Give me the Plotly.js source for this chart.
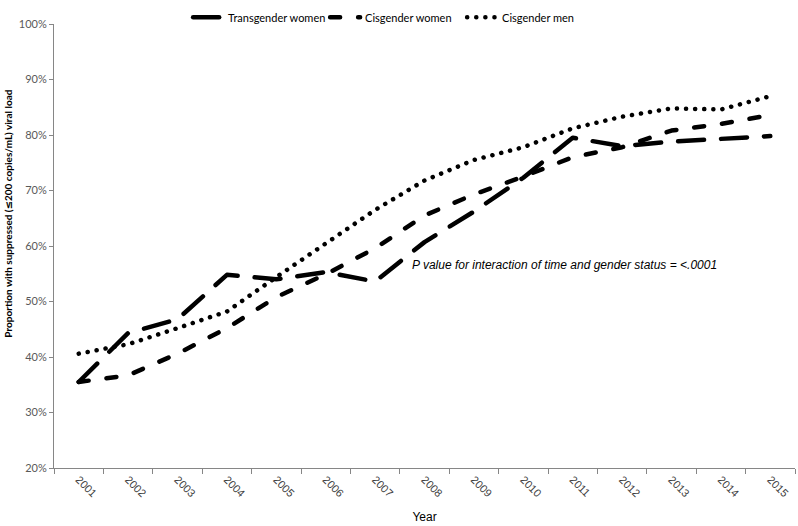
<!DOCTYPE html>
<html>
<head>
<meta charset="utf-8">
<script src="https://cdn.plot.ly/plotly-3.0.1.min.js"></script>
<style>html,body{margin:0;padding:0;background:#fff;}</style>
</head>
<body>
<div id="chart" style="width:798px;height:526px;"></div>
<script>
const years = ['2001','2002','2003','2004','2005','2006','2007','2008','2009','2010','2011','2012','2013','2014','2015'];
const transgenderWomen = [35.5, 44.3, 46.8, 54.8, 54.0, 55.3, 53.6, 60.7, 66.2, 72.3, 79.5, 78.0, 78.8, 79.2, 79.8];
const cisgenderWomen   = [35.5, 36.7, 40.6, 45.2, 50.8, 54.9, 59.6, 65.5, 69.3, 72.5, 76.0, 77.8, 80.8, 82.0, 83.6];
const cisgenderMen     = [40.6, 42.3, 45.2, 48.2, 54.4, 60.4, 66.5, 71.8, 75.5, 77.8, 81.2, 83.3, 84.8, 84.6, 87.0];
const yTicks = [20, 30, 40, 50, 60, 70, 80, 90, 100];

const traces = [
  {x: years, y: transgenderWomen, name: 'Transgender women', type: 'scatter', mode: 'lines',
   line: {color: '#000', width: 4.5, dash: '26px,17px'}},
  {x: years, y: cisgenderWomen, name: 'Cisgender women', type: 'scatter', mode: 'lines',
   line: {color: '#000', width: 4.5, dash: '10px,18px'}},
  {x: years, y: cisgenderMen, name: 'Cisgender men', type: 'scatter', mode: 'lines',
   line: {color: '#000', width: 4.5, dash: '0.1px,9px'}}
];

const layout = {
  width: 798, height: 526,
  margin: {l: 54, r: 3, t: 14, b: 58},
  paper_bgcolor: '#fff', plot_bgcolor: '#fff',
  showlegend: true,
  legend: {orientation: 'h', x: 0.181, xanchor: 'left', y: 1.015, yanchor: 'middle',
           font: {family: 'Lato, "Liberation Sans", sans-serif', size: 11, color: '#000'},
           itemwidth: 30, entrywidth: 92, bgcolor: 'rgba(0,0,0,0)'},
  xaxis: {
    type: 'category', tickson: 'boundaries', ticks: 'outside', ticklen: 5, tickcolor: '#868686',
    showline: true, linecolor: '#868686', linewidth: 1, showgrid: false, zeroline: false,
    tickangle: 45, tickfont: {family: '"Liberation Sans Narrow", "Liberation Sans", sans-serif', size: 11, color: '#404040'},
    title: {text: 'Year', standoff: 14, font: {family: '"Liberation Sans Narrow", "Liberation Sans", sans-serif', size: 12, color: '#000'}},
    range: [-0.5, 14.5], fixedrange: true
  },
  yaxis: {
    range: [20, 100], tickvals: yTicks, ticktext: yTicks.map(v => v + '%'),
    ticks: 'outside', ticklen: 4, tickcolor: '#868686',
    showline: true, linecolor: '#868686', linewidth: 1, showgrid: false, zeroline: false,
    tickfont: {family: 'Lato, "Liberation Sans", sans-serif', size: 11, color: '#595959'},
    fixedrange: true
  },
  annotations: [{
    xref: 'paper', yref: 'y', x: 0.4804, y: 56.6, xanchor: 'left', yanchor: 'middle',
    text: '<i>P value for interaction of time and gender status = &lt;.0001</i>', showarrow: false,
    font: {family: '"Liberation Sans", Arial, sans-serif', size: 12, color: '#000'}
  }, {
    xref: 'paper', yref: 'paper', x: -0.0621, y: 0.575, xanchor: 'center', yanchor: 'middle',
    textangle: -90, showarrow: false,
    text: '<b>Proportion with suppressed (<span style="font-family:\'DejaVu Sans\'">≤</span>200 copies/mL) viral load</b>',
    font: {family: 'Lato, "Liberation Sans", sans-serif', size: 10, color: '#000'}
  }]
};

Plotly.newPlot('chart', traces, layout, {displayModeBar: false, staticPlot: true}).then(function (gd) {
  gd.querySelectorAll('.js-line').forEach(function (p) {
    p.style.strokeLinecap = 'round';
    p.style.strokeLinejoin = 'round';
  });
});
</script>
</body>
</html>
